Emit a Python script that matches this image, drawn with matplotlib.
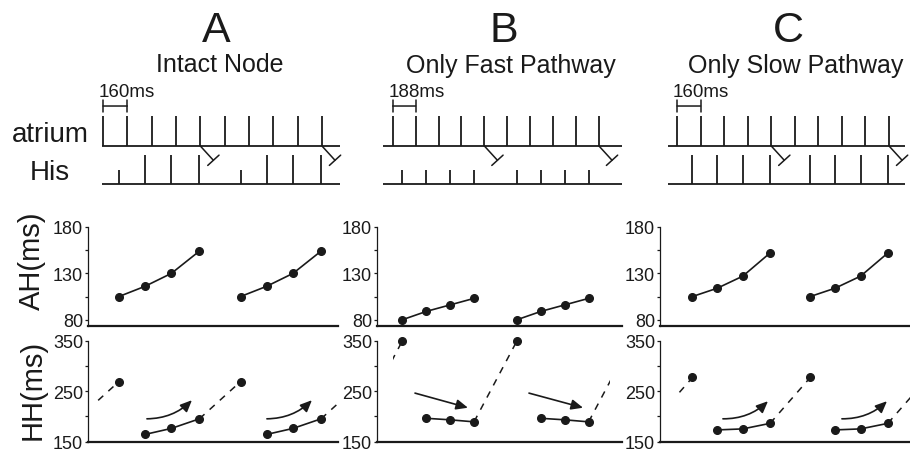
import numpy as np
import matplotlib.pyplot as plt
from matplotlib.patches import Rectangle

plt.rcParams['font.family'] = ['Liberation Sans', 'DejaVu Sans']

# ---- values ----
letters = ['A', 'B', 'C']
titles = ['Intact Node', 'Only Fast Pathway', 'Only Slow Pathway']
cycle_ms = [160, 188, 160]            # atrial pacing interval
scale_labels = ['160ms', '188ms', '160ms']
n_atrial = 10
beats_per_cycle = 5                   # 5:4 Wenckebach, 5th atrial beat blocked
blocked = [4, 9]

# AH intervals (ms) of the four conducted beats
ah_A = [105, 116, 130, 154]
ah_B = [80, 89, 96, 103]
ah_C = [105, 114, 127, 152]
# HH intervals (ms)
hh_A = [269, 164, 176, 195]
hh_B = [350, 196, 193, 189]
hh_C = [277, 173, 175, 186]
# His deflection tall (1) / short (0)
his_tall_A = [0, 1, 1, 1]
his_tall_B = [0, 0, 0, 0]
his_tall_C = [1, 1, 1, 1]
# trend arrows on the HH plots: (t0, hh0, t1, hh1)
arrows_A = [(289, 195, 585, 232), (1078, 195, 1374, 232)]
arrows_B = [(183, 246, 617, 217), (1118, 246, 1561, 217)]
arrows_C = [(312, 195, 618, 230), (1120, 195, 1426, 230)]

ah_all = [ah_A, ah_B, ah_C]
hh_all = [hh_A, hh_B, hh_C]
tall_all = [his_tall_A, his_tall_B, his_tall_C]
arrows_all = [arrows_A, arrows_B, arrows_C]
bend = [0.2, 0.0, 0.2]

# ---- layout (pixels) ----
W, H = 910, 452
ax_px = [(88, 338), (377, 622), (660, 910)]
p0_px = [103, 392.7, 677]             # first atrial spike
step_px = [24.33, 22.92, 23.56]
base_px = [(102, 340), (383, 622), (668, 905)]
dash_px = [(97, 338), (393, 610), (677, 910)]
letter_x = [216.5, 503.4, 788]
title_x = [220, 511, 796]
ink = '#1a1a1a'

fig = plt.figure(figsize=(W / 100, H / 100), dpi=100)


def px_axes(x0, x1, y0, y1):
    return fig.add_axes([x0 / W, 1 - y1 / H, (x1 - x0) / W, (y1 - y0) / H])


def his_times(S, ah, g):
    return [(beats_per_cycle * g + k) * S + ah[k] for k in range(len(ah))]


# ladder levels (axes fraction, ladder axes spans px 100..190)
atr_base, atr_top = 0.478, 0.811
his_base, his_hi, his_lo = 0.056, 0.378, 0.211
bar_y = 0.922

for i in range(3):
    S = cycle_ms[i]
    ah, hh = ah_all[i], hh_all[i]
    mspp = S / step_px[i]

    def to_ms(px):
        return (px - p0_px[i]) * mspp

    xlim = (to_ms(ax_px[i][0]), to_ms(ax_px[i][1]))

    # titles
    fig.text(letter_x[i] / W, 1 - 41.7 / H, letters[i], fontsize=31,
             ha='center', va='baseline', color=ink)
    fig.text(title_x[i] / W, 1 - 72.5 / H, titles[i], fontsize=18,
             ha='center', va='baseline', color=ink)

    # ---- ladder diagram ----
    lad = px_axes(ax_px[i][0], ax_px[i][1], 100, 190)
    lad.set_xlim(xlim)
    lad.set_ylim(0, 1)
    lad.axis('off')
    bl, br = to_ms(base_px[i][0]), to_ms(base_px[i][1])
    for yb in (atr_base, his_base):
        lad.plot([bl, br], [yb, yb], color=ink, lw=1.3, clip_on=False,
                 solid_capstyle='butt')
    atr_t = np.arange(n_atrial) * S
    lad.vlines(atr_t, atr_base, atr_top, color=ink, lw=1.3, clip_on=False)
    for k in blocked:
        lad.annotate('', xy=(atr_t[k], atr_base), xytext=(9.4, -10.3),
                     textcoords='offset points',
                     arrowprops=dict(arrowstyle=']-, widthA=0.55, lengthA=0',
                                     lw=1.1, color=ink, shrinkA=0, shrinkB=0,
                                     mutation_scale=10),
                     annotation_clip=False)
    for g in (0, 1):
        t = his_times(S, ah, g)
        tops = [his_hi if f else his_lo for f in tall_all[i]]
        lad.vlines(t, his_base, tops, color=ink, lw=1.3, clip_on=False)
    # scale bar
    lad.annotate('', xy=(S, bar_y), xytext=(0, bar_y),
                 arrowprops=dict(arrowstyle='|-|, widthA=0.45, widthB=0.45',
                                 lw=1.1, color=ink, shrinkA=0, shrinkB=0,
                                 mutation_scale=10),
                 annotation_clip=False)
    lad.annotate(scale_labels[i], xy=(0, bar_y), xytext=(-3, 7.2),
                 textcoords='offset points', ha='left', va='baseline',
                 fontsize=13.5, color=ink, annotation_clip=False)

    # ---- AH plot ----
    a1 = px_axes(ax_px[i][0], ax_px[i][1], 228, 327)
    a1.set_xlim(xlim)
    a1.set_ylim(73.2, 180)
    for g in (0, 1):
        a1.plot(his_times(S, ah, g), ah, '-o', color=ink, lw=1.2, ms=5.5,
                clip_on=False)
    a1.set_yticks([80, 105, 130, 155, 180])
    a1.set_yticklabels(['80', '', '130', '', '180'])

    # ---- HH plot ----
    a2 = px_axes(ax_px[i][0], ax_px[i][1], 341.7, 442.5)
    a2.set_xlim(xlim)
    a2.set_ylim(150, 350)
    for g in (0, 1):
        t = his_times(S, ah, g)
        a2.plot(t[1:], hh[1:], '-', color=ink, lw=1.2)
        a2.plot(t, hh, 'o', color=ink, ms=5.5, clip_on=False)
    clip = Rectangle((to_ms(dash_px[i][0]), 100),
                     to_ms(dash_px[i][1]) - to_ms(dash_px[i][0]), 300,
                     transform=a2.transData)
    for g in (-1, 0, 1):
        ta = his_times(S, ah, g)[-1]
        tb = his_times(S, ah, g + 1)[0]
        ln, = a2.plot([ta, tb], [hh[-1], hh[0]], color=ink, lw=1.1,
                      ls=(0, (4.5, 4.5)))
        ln.set_clip_path(clip)
    for (t0, h0, t1, h1) in arrows_all[i]:
        a2.annotate('', xy=(t1, h1), xytext=(t0, h0),
                    arrowprops=dict(arrowstyle='-|>, head_length=0.5, head_width=0.22',
                                    connectionstyle=f'arc3,rad={bend[i]}',
                                    lw=1.2, color=ink, shrinkA=0, shrinkB=0,
                                    mutation_scale=14))
    a2.set_yticks([150, 200, 250, 300, 350])
    a2.set_yticklabels(['150', '', '250', '', '350'])

    for ax in (a1, a2):
        ax.set_xticks([])
        ax.patch.set_visible(False)
        ax.spines['top'].set_visible(False)
        ax.spines['right'].set_visible(False)
        ax.spines['left'].set_linewidth(0.9)
        ax.spines['bottom'].set_linewidth(1.6)
        ax.spines['left'].set_color(ink)
        ax.spines['bottom'].set_color(ink)
        ax.tick_params(axis='y', direction='out', length=2.5, width=0.9,
                       pad=1, labelsize=13, colors=ink)

# row labels
fig.text(50 / W, 1 - 142 / H, 'atrium', fontsize=20, ha='center',
         va='baseline', color=ink)
fig.text(50 / W, 1 - 180 / H, 'His', fontsize=20, ha='center',
         va='baseline', color=ink)
fig.text(31.5 / W, 1 - 261 / H, 'AH(ms)', fontsize=21, rotation=90,
         ha='center', va='center', color=ink)
fig.text(32.5 / W, 1 - 390 / H, 'HH(ms)', fontsize=21, rotation=90,
         ha='center', va='center', color=ink)

fig.savefig('out.png', dpi=100)
